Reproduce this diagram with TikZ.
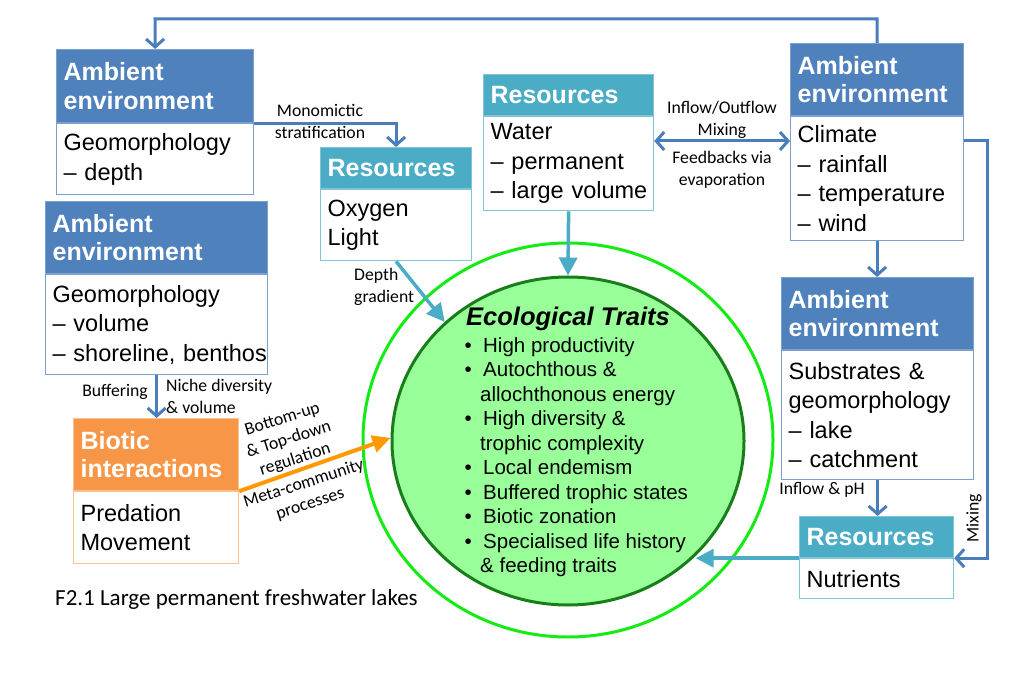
\documentclass[tikz,border=0pt]{standalone}
\usepackage{fontspec}
\setmainfont{Liberation Sans}
\newfontfamily\calib{Carlito}
\usetikzlibrary{arrows.meta,shapes.geometric}
\definecolor{ambblue}{RGB}{79,129,189}
\definecolor{ambline}{RGB}{126,160,206}
\definecolor{resteal}{RGB}{75,172,198}
\definecolor{resline}{RGB}{130,195,215}
\definecolor{bioor}{RGB}{247,150,70}
\definecolor{bioline}{RGB}{250,192,144}
\definecolor{arrblue}{RGB}{74,126,187}
\definecolor{arrteal}{RGB}{75,172,198}
\definecolor{arror}{RGB}{255,153,0}
\definecolor{lightgr}{RGB}{153,255,153}
\definecolor{darkgr}{RGB}{25,125,25}
\definecolor{brightgr}{RGB}{20,235,20}
\newcommand{\bul}{\makebox[18.5pt][l]{•}}
\newcommand{\ind}{\hspace*{15.5pt}}
\newcommand{\nb}[1]{\mbox{#1}}
\hyphenpenalty=10000
\exhyphenpenalty=10000
\begin{document}
\begin{tikzpicture}[x=1pt,y=-1pt,
 hdr/.style={anchor=north west, inner xsep=7pt, inner ysep=0pt, align=left, text=white, line width=1.2pt, font=\fontsize{25}{28.5}\selectfont\bfseries},
 bdy/.style={anchor=north west, inner xsep=7pt, inner ysep=0pt, align=left, fill=white, line width=1.2pt, font=\fontsize{23.5}{29.5}\selectfont},
 sz/.style n args={3}{minimum width=#1, text width=#2, minimum height=#3},
 amb/.style={fill=ambblue, draw=ambline},
 res/.style={fill=resteal, draw=resline},
 bio/.style={fill=bioor, draw=bioline},
 barrow/.style={draw=arrblue, line width=3pt, -{Straight Barb[length=8pt,width=18pt]}},
 bdouble/.style={draw=arrblue, line width=3pt, {Straight Barb[length=8pt,width=18pt]}-{Straight Barb[length=8pt,width=18pt]}},
 tarrow/.style={draw=arrteal, line width=3.5pt, -{Triangle[length=18pt,width=18pt]}},
 oarrow/.style={draw=arror, line width=4pt, -{Triangle[length=18pt,width=17pt]}},
 lbl/.style={font=\calib\fontsize{17.7}{22}\selectfont, inner sep=0pt, align=center}
]
\fill[white] (0,0) rectangle (1011,700);
\useasboundingbox (0,0) rectangle (1011,700);

% ellipses
\node[ellipse, draw=brightgr, line width=3pt, minimum width=410pt, minimum height=394pt, inner sep=0pt] (outer) at (568,440) {};
\node[ellipse, draw=darkgr, fill=lightgr, line width=3pt, minimum width=352pt, minimum height=328pt, inner sep=0pt] (inner) at (568,441) {};

% boxes
\node[hdr, amb, sz={197pt}{183pt}{73pt}] (a1H) at (56,49) {Ambient\\environment};
\node[bdy, draw=ambline, sz={197pt}{183pt}{71pt}] (a1B) at (a1H.south west) {Geomorphology\\\nb{– depth}};

\node[hdr, res, sz={151pt}{137pt}{41pt}] (oxH) at (320,147) {Resources};
\node[bdy, draw=resline, sz={151pt}{137pt}{71pt}] (oxB) at (oxH.south west) {Oxygen\\Light};

\node[hdr, res, sz={170pt}{156pt}{41pt}] (waterH) at (483,74) {Resources};
\node[bdy, draw=resline, sz={170pt}{156pt}{94pt}] (waterB) at (waterH.south west) {Water\\\nb{– permanent}\\\nb{– large volume}};

\node[hdr, amb, sz={173pt}{159pt}{72pt}] (climH) at (790,43) {Ambient\\environment};
\node[bdy, draw=ambline, sz={173pt}{159pt}{124pt}] (climB) at (climH.south west) {Climate\\\nb{– rainfall}\\\nb{– temperature}\\\nb{– wind}};

\node[hdr, amb, sz={222pt}{208pt}{72pt}] (a2H) at (45,201) {Ambient\\environment};
\node[bdy, draw=ambline, sz={222pt}{208pt}{100pt}] (a2B) at (a2H.south west) {Geomorphology\\\nb{– volume}\\\nb{– shoreline, benthos}};

\node[hdr, amb, sz={192pt}{178pt}{72pt}] (subH) at (781,277) {Ambient\\environment};
\node[bdy, draw=ambline, sz={192pt}{178pt}{129pt}] (subB) at (subH.south west) {\nb{Substrates \&}\\geomorphology\\\nb{– lake}\\\nb{– catchment}};

\node[hdr, res, sz={154pt}{140pt}{41pt}] (nutH) at (799,516) {Resources};
\node[bdy, draw=resline, sz={154pt}{140pt}{40pt}] (nutB) at (nutH.south west) {Nutrients};

\node[hdr, bio, sz={165pt}{151pt}{72pt}] (bioH) at (73,418) {Biotic\\interactions};
\node[bdy, draw=bioline, sz={165pt}{151pt}{72pt}] (bioB) at (bioH.south west) {Predation\\Movement};

% traits text
\node[font=\fontsize{25.5}{30}\selectfont\bfseries\itshape, inner sep=0pt] (ettl) at (568,319) {Ecological Traits};
\node[anchor=west, inner sep=0pt, align=left, font=\fontsize{20.5}{24.5}\selectfont] (elist) at (464.5,457) {\bul High productivity\\
\bul Autochthous \&\\
\ind allochthonous energy\\
\bul High diversity \&\\
\ind trophic complexity\\
\bul Local endemism\\
\bul Buffered trophic states\\
\bul Biotic zonation\\
\bul Specialised life history\\
\ind \& feeding traits};

% connectors
\coordinate (topbend) at (155,19);
\coordinate (dblc) at (720,141);
\coordinate (mixx) at (987,300);
\draw[barrow] (climH.north) |- (topbend) -- (a1H.north);
\draw[barrow] (a1H.south east) -| (oxH.north);
\draw[bdouble] (waterB.east |- dblc) -- (climB.west |- dblc);
\draw[barrow] (climB.east |- dblc) -| (mixx) |- (nutH.south east);
\draw[barrow] (climB.south) -- (climB.south |- subH.north);
\draw[barrow] (subB.south) -- (subB.south |- nutH.north);
\draw[barrow] (a2B.south) -- (a2B.south |- bioH.north);
\draw[tarrow] (oxB.south) -- (inner.136.6);
\draw[tarrow] (waterB.south) -- (inner.north);
\draw[tarrow] (nutH.south west) -- (nutH.south west -| inner.-42.9);
\draw[oarrow] (bioH.south east) -- (inner.179);

% labels
\node[lbl] (lmono) at (320,121) {Monomictic\\stratification};
\node[lbl] (linf) at (722,120) {Inflow/Outflow\\Mixing};
\node[lbl] (lfeed) at (722,170) {Feedbacks via\\evaporation};
\node[lbl, anchor=west, align=left] (ldepth) at (354,287) {Depth\\gradient};
\node[lbl, anchor=east] (lbuf) at (148,392) {Buffering};
\node[lbl, anchor=west, align=left] (lniche) at (166,396) {Niche diversity\\\& volume};
\node[lbl] (linph) at (822,490) {Inflow \& pH};
\node[lbl, rotate=90] (lmix) at (974,518) {Mixing};
\node[lbl, rotate=17.6, font=\calib\fontsize{17.7}{21}\selectfont] (lbu) at (289,440) {Bottom-up\\\& Top-down\\regulation};
\node[lbl, rotate=17.6, font=\calib\fontsize{17.7}{21}\selectfont] (lmeta) at (307,494) {Meta-community\\processes};

\node[font=\calib\fontsize{23}{27}\selectfont, anchor=base west, inner sep=0pt] (cap) at (55,605) {F2.1 Large permanent freshwater lakes};
\end{tikzpicture}
\end{document}
